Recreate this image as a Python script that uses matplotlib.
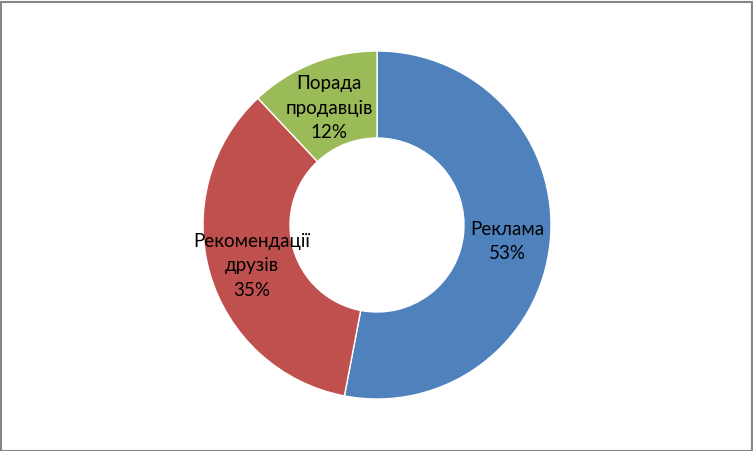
import matplotlib
matplotlib.use('Agg')
import matplotlib.pyplot as plt
import numpy as np

# data
labels = ['Реклама', 'Рекомендації\nдрузів', 'Порада\nпродавців']
shares = [53, 35, 12]
colors = ['#4F81BD', '#C0504D', '#9BBB59']

W, H = 753, 451
fig = plt.figure(figsize=(W / 100, H / 100), dpi=100)

# donut centre at (377, 225) px, outer radius 174 px
cx, cy, r = 377, 225, 174
ax = fig.add_axes([(cx - r) / W, (H - cy - r) / H, 2 * r / W, 2 * r / H])

wedges, _ = ax.pie(shares, colors=colors, startangle=90, counterclock=False,
                   radius=1, wedgeprops=dict(width=0.5, edgecolor='white', linewidth=1))

# labels in the middle of the ring
total = sum(shares)
acc = 0
for lab, v in zip(labels, shares):
    mid = (acc + v / 2) / total * 360
    acc += v
    ang = np.deg2rad(90 - mid)
    ax.text(0.75 * np.cos(ang), 0.75 * np.sin(ang) - 0.025, f'{lab}\n{v}%',
            ha='center', va='center', fontsize=13.5, family='Lato',
            linespacing=1.55)

ax.set_xlim(-1, 1)
ax.set_ylim(-1, 1)
ax.set_aspect('equal')
ax.axis('off')

# grey frame around the chart
fig.patches.append(plt.Rectangle((0.5 / W, 0.5 / H), 1 - 2 / W, 1 - 2 / H,
                                 transform=fig.transFigure, fill=False,
                                 edgecolor='#868686', linewidth=1.5))

fig.savefig('out.png', dpi=100)
